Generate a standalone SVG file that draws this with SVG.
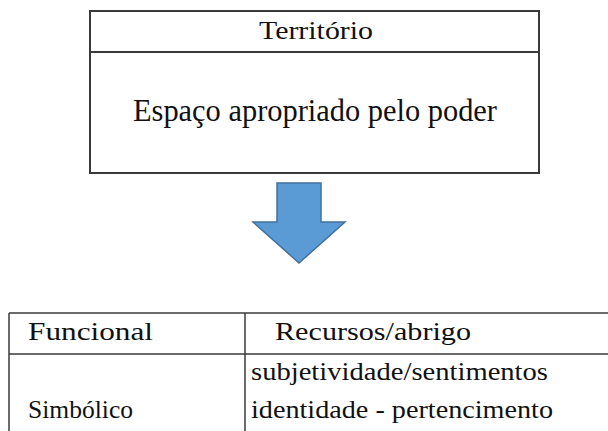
<svg xmlns="http://www.w3.org/2000/svg" width="608" height="431" viewBox="0 0 608 431">
<style>
.box{fill:none;stroke:#3a3a3a;stroke-width:2}
.ln{stroke:#3a3a3a;stroke-width:1.5;fill:none}
text{font-family:"Liberation Serif","DejaVu Serif",serif;fill:#111}
</style>
<rect width="608" height="431" fill="#fff"/>
<g id="territorio">
<rect class="box" x="90" y="11" width="449" height="162"/>
<line class="box" x1="90" y1="52" x2="539" y2="52"/>
<text x="259" y="39" font-size="25" textLength="114" lengthAdjust="spacingAndGlyphs">Território</text>
<text x="133" y="121" font-size="31" textLength="364" lengthAdjust="spacingAndGlyphs">Espaço apropriado pelo poder</text>
</g>
<g id="connectors">
<path d="M277,183 H321 V222 H345 L299,263 L253,222 H277 Z" fill="#5b9bd5" stroke="#41719c" stroke-width="1.5"/>
</g>
<g id="tabela">
<line class="ln" x1="9" y1="313" x2="608" y2="313"/>
<line class="ln" x1="9" y1="354" x2="608" y2="354"/>
<line class="ln" x1="9" y1="313" x2="9" y2="431"/>
<line class="ln" x1="245" y1="313" x2="245" y2="431"/>
<text x="28" y="340" font-size="25" textLength="125" lengthAdjust="spacingAndGlyphs">Funcional</text>
<text x="275" y="340" font-size="25" textLength="196" lengthAdjust="spacingAndGlyphs">Recursos/abrigo</text>
<text x="251" y="380" font-size="25" textLength="297" lengthAdjust="spacingAndGlyphs">subjetividade/sentimentos</text>
<text x="28" y="418" font-size="25" textLength="105" lengthAdjust="spacingAndGlyphs">Simbólico</text>
<text x="251" y="418" font-size="25" textLength="302" lengthAdjust="spacingAndGlyphs">identidade - pertencimento</text>
</g>
</svg>
